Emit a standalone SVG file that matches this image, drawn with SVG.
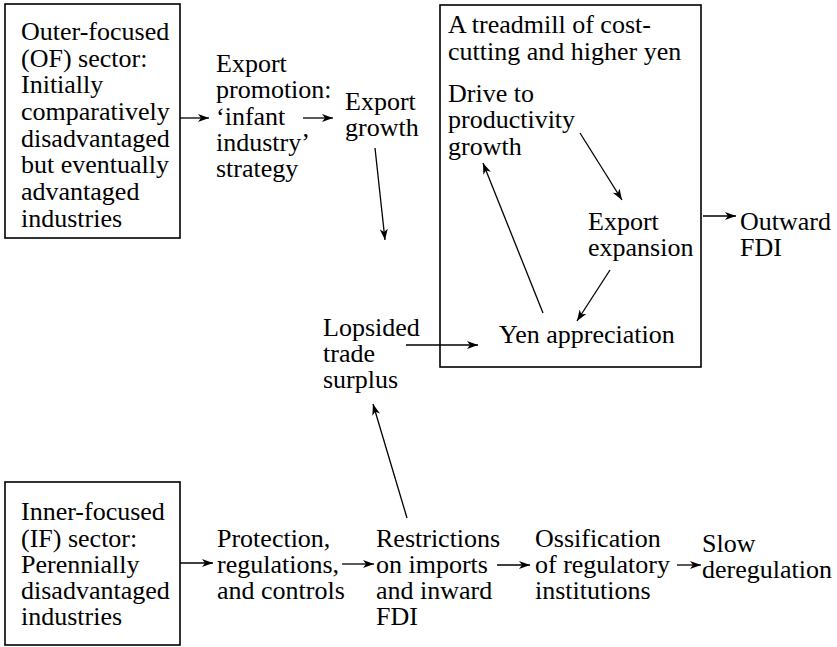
<svg xmlns="http://www.w3.org/2000/svg" width="837" height="647" viewBox="0 0 837 647">
<style>
text{font-family:"Liberation Serif","Times New Roman",serif;font-size:26px;fill:#000}
.box{fill:none;stroke:#000;stroke-width:1.6}
.arr{stroke:#000;stroke-width:1.3;fill:none;marker-end:url(#ah)}
</style>
<defs>
<marker id="ah" markerUnits="userSpaceOnUse" markerWidth="12" markerHeight="10" refX="11" refY="4" orient="auto">
<path d="M0,0 L11,4 L0,8 L3,4 z" fill="#000"/>
</marker>
</defs>
<rect width="837" height="647" fill="#fff"/>
<g id="of-sector">
<rect class="box" x="5" y="4" width="175" height="234"/>
<text x="21" y="40">Outer-focused</text>
<text x="21" y="67">(OF) sector:</text>
<text x="21" y="93">Initially</text>
<text x="21" y="120">comparatively</text>
<text x="21" y="147">disadvantaged</text>
<text x="21" y="173">but eventually</text>
<text x="21" y="200">advantaged</text>
<text x="21" y="227">industries</text>
</g>
<g id="export-promotion">
<text x="216" y="72">Export</text>
<text x="216" y="98">promotion:</text>
<text x="216" y="125">‘infant</text>
<text x="216" y="151">industry’</text>
<text x="216" y="177">strategy</text>
</g>
<g id="export-growth">
<text x="345" y="110">Export</text>
<text x="345" y="136">growth</text>
</g>
<g id="treadmill">
<rect class="box" x="440" y="5" width="261" height="362"/>
<text x="448" y="33">A treadmill of cost-</text>
<text x="448" y="60">cutting and higher yen</text>
</g>
<g id="drive-productivity">
<text x="448" y="102">Drive to</text>
<text x="448" y="128">productivity</text>
<text x="448" y="155">growth</text>
</g>
<g id="export-expansion">
<text x="588" y="230">Export</text>
<text x="588" y="256">expansion</text>
</g>
<g id="yen-appreciation">
<text x="499" y="343">Yen appreciation</text>
</g>
<g id="outward-fdi">
<text x="740" y="230">Outward</text>
<text x="740" y="256">FDI</text>
</g>
<g id="lopsided-surplus">
<text x="323" y="336">Lopsided</text>
<text x="323" y="362">trade</text>
<text x="323" y="388">surplus</text>
</g>
<g id="if-sector">
<rect class="box" x="5" y="482" width="175" height="163"/>
<text x="21" y="520">Inner-focused</text>
<text x="21" y="547">(IF) sector:</text>
<text x="21" y="573">Perennially</text>
<text x="21" y="599">disadvantaged</text>
<text x="21" y="625">industries</text>
</g>
<g id="protection">
<text x="217" y="547">Protection,</text>
<text x="217" y="573">regulations,</text>
<text x="217" y="599">and controls</text>
</g>
<g id="restrictions">
<text x="376" y="547">Restrictions</text>
<text x="376" y="573">on imports</text>
<text x="376" y="599">and inward</text>
<text x="376" y="625">FDI</text>
</g>
<g id="ossification">
<text x="535" y="547">Ossification</text>
<text x="535" y="573">of regulatory</text>
<text x="535" y="599">institutions</text>
</g>
<g id="slow-deregulation">
<text x="702" y="552">Slow</text>
<text x="702" y="578">deregulation</text>
</g>
<g id="connectors">
<line class="arr" x1="180" y1="118" x2="209" y2="118"/>
<line class="arr" x1="303" y1="118" x2="333" y2="118"/>
<line class="arr" x1="375" y1="148" x2="385" y2="240"/>
<line class="arr" x1="406" y1="345" x2="478" y2="345"/>
<line class="arr" x1="407" y1="518" x2="373" y2="404"/>
<line class="arr" x1="580" y1="133" x2="622" y2="200"/>
<line class="arr" x1="610" y1="270" x2="577" y2="321"/>
<line class="arr" x1="543" y1="313" x2="483" y2="163"/>
<line class="arr" x1="703" y1="216" x2="736" y2="216"/>
<line class="arr" x1="180" y1="563" x2="213" y2="563"/>
<line class="arr" x1="342" y1="564" x2="374" y2="564"/>
<line class="arr" x1="497" y1="565" x2="530" y2="565"/>
<line class="arr" x1="677" y1="565" x2="701" y2="565"/>
</g>
</svg>
